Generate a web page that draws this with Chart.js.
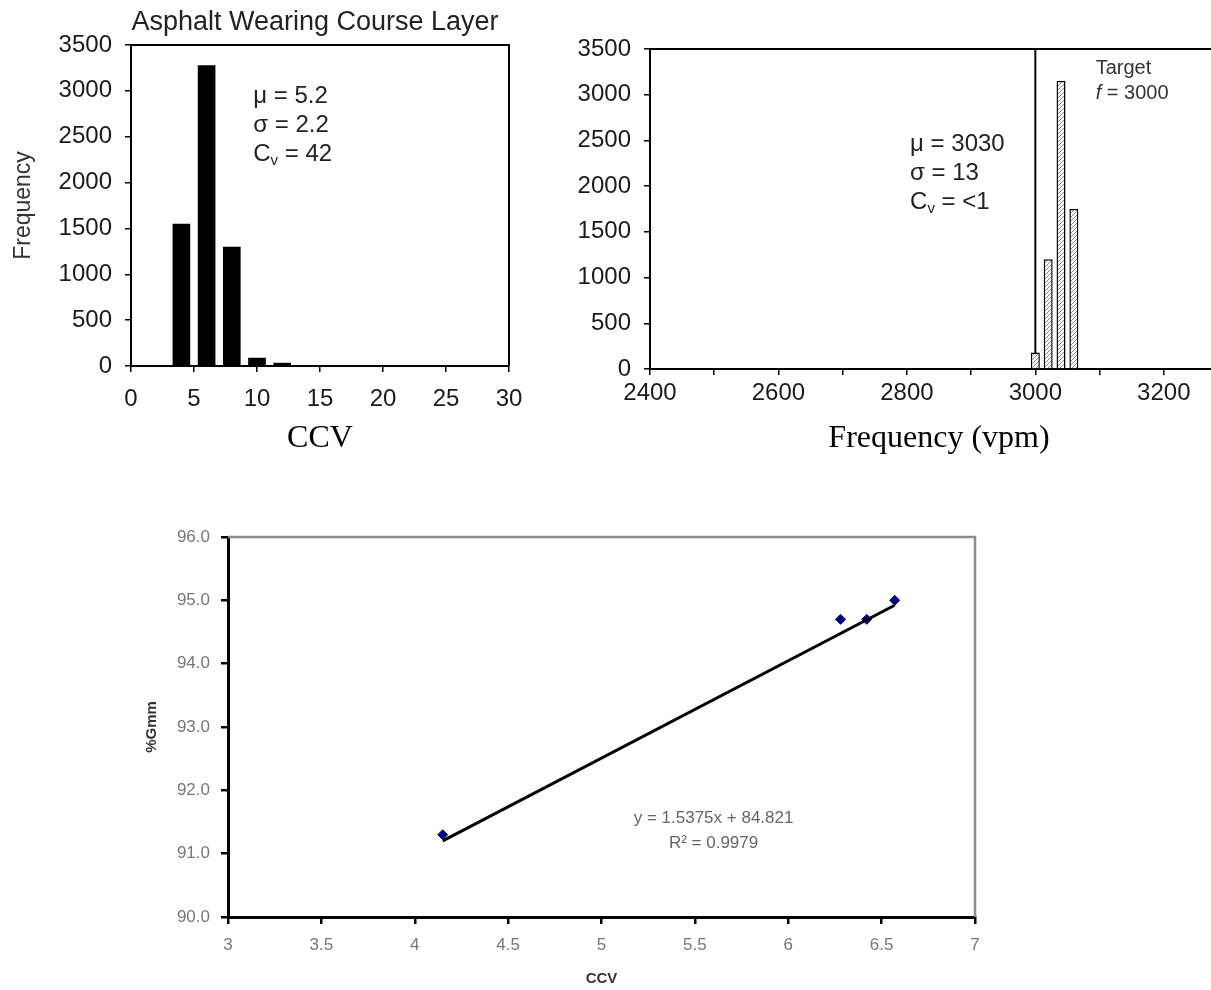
<!DOCTYPE html>
<html>
<head>
<meta charset="utf-8">
<title>CCV charts</title>
<script src="https://cdn.jsdelivr.net/npm/chart.js@4.4.0/dist/chart.umd.min.js"></script>
<style>
  html, body { margin: 0; padding: 0; background: #fff; }
  body { width: 1211px; height: 990px; position: relative; overflow: hidden; }
  .box { position: absolute; }
</style>
</head>
<body>
<div class="box" style="left:0;top:0"><canvas id="ccvHistChart" width="560" height="470"></canvas></div>
<div class="box" style="left:560px;top:0"><canvas id="freqHistChart" width="700" height="470"></canvas></div>
<div class="box" style="left:0;top:480px"><canvas id="ccvGmmChart" width="1211" height="510"></canvas></div>
<script>
// Histogram CCV (lapisan aus aspal)
const ccvBins = [4, 6, 8, 10, 12];
const ccvCounts = [1550, 3280, 1300, 90, 35];
const ccvTicks = [0, 5, 10, 15, 20, 25, 30];
const ccvStats = ["μ = 5.2", "σ = 2.2", "C_v = 42"];

// Histogram frekuensi getar (vpm)
const freqBins = [3000, 3020, 3040, 3060];
const freqCounts = [180, 1200, 3150, 1750];
const freqTarget = 3000;
const freqTickLabels = ["2400", "2600", "2800", "3000", "3200"];
const freqStats = ["μ = 3030", "σ = 13", "C_v = <1"];

const countTicks = [0, 500, 1000, 1500, 2000, 2500, 3000, 3500];

// Hubungan CCV dengan %Gmm
const ccvValues = [4.15, 6.28, 6.42, 6.57];
const gmmValues = [91.3, 94.7, 94.7, 95.0];
const trendSlope = 1.5375;
const trendIntercept = 84.821;
const trendR2 = 0.9979;
const ccvAxisTicks = [3, 3.5, 4, 4.5, 5, 5.5, 6, 6.5, 7];
const gmmAxisTicks = [90, 91, 92, 93, 94, 95, 96];

const SANS = "'Liberation Sans', Arial, sans-serif";
const SERIF = "'Liberation Serif', 'Times New Roman', serif";

// Bingkai atas & kanan area plot
const frameBox = {
  id: "frameBox",
  afterDraw(chart, args, opts) {
    const { ctx, chartArea: a } = chart;
    ctx.save();
    ctx.strokeStyle = opts.color;
    ctx.lineWidth = opts.width;
    ctx.beginPath();
    ctx.moveTo(a.left, a.top);
    ctx.lineTo(a.right, a.top);
    ctx.lineTo(a.right, a.bottom);
    ctx.stroke();
    ctx.restore();
  },
};

// Tulis teks statistik, "_v" jadi subskrip
function drawStat(ctx, x, y, text, size) {
  const font = `${size}px ${SANS}`;
  const parts = text.split("_");
  ctx.font = font;
  ctx.fillText(parts[0], x, y);
  if (parts.length < 2) return;
  let w = ctx.measureText(parts[0]).width;
  ctx.font = `${Math.round(size * 0.62)}px ${SANS}`;
  ctx.fillText(parts[1][0], x + w, y + size * 0.3);
  w += ctx.measureText(parts[1][0]).width;
  ctx.font = font;
  ctx.fillText(parts[1].slice(1), x + w, y);
}

function statsPlugin(id, stats, dataX, dataY, size) {
  return {
    id,
    afterDraw(chart) {
      const { ctx, scales } = chart;
      const x = scales.x.getPixelForValue(dataX);
      const y = scales.y.getPixelForValue(dataY);
      ctx.save();
      ctx.fillStyle = "#222";
      ctx.textBaseline = "middle";
      ctx.textAlign = "left";
      stats.forEach((s, i) => drawStat(ctx, x, y + i * 29, s, size));
      ctx.restore();
    },
  };
}

function hatchPattern() {
  const c = document.createElement("canvas");
  c.width = 4;
  c.height = 4;
  const g = c.getContext("2d");
  g.fillStyle = "#fff";
  g.fillRect(0, 0, 4, 4);
  g.strokeStyle = "#8a8a8a";
  g.lineWidth = 1;
  g.beginPath();
  g.moveTo(0, 4); g.lineTo(4, 0);
  g.moveTo(-2, 2); g.lineTo(2, -2);
  g.moveTo(2, 6); g.lineTo(6, 2);
  g.stroke();
  return g.createPattern(c, "repeat");
}

function countAxis(width) {
  return {
    type: "linear",
    min: countTicks[0],
    max: countTicks[countTicks.length - 1],
    ticks: {
      stepSize: 500,
      color: "#1a1a1a",
      font: { family: SANS, size: 24 },
      padding: 13,
      callback: (v) => (countTicks.includes(v) ? String(v) : ""),
    },
    grid: { drawOnChartArea: false, tickLength: 6, color: "#000", lineWidth: 1.5 },
    border: { color: "#000", width: 2 },
    afterFit: (s) => { s.width = width; },
  };
}

window.onload = () => {
  initCcvHist();
  initFreqHist();
  initCcvGmm();
};

function initCcvHist() {
  const ctx = document.getElementById("ccvHistChart").getContext("2d");
  const titlePlugin = {
    id: "ccvTitle",
    afterDraw(chart) {
      const { ctx, chartArea: a } = chart;
      ctx.save();
      ctx.fillStyle = "#222";
      ctx.font = `27px ${SANS}`;
      ctx.textAlign = "center";
      ctx.textBaseline = "middle";
      ctx.fillText("Asphalt Wearing Course Layer", (a.left + a.right) / 2 - 5, 23);
      ctx.restore();
    },
  };
  new Chart(ctx, {
    type: "bar",
    data: {
      datasets: [
        {
          data: ccvBins.map((b, i) => ({ x: b, y: ccvCounts[i] })),
          backgroundColor: "#000",
          borderWidth: 0,
          barPercentage: 0.7,
          categoryPercentage: 1,
        },
      ],
    },
    options: {
      responsive: false,
      animation: false,
      devicePixelRatio: 1,
      layout: { padding: { top: 45, right: 51, left: 0, bottom: 0 } },
      plugins: {
        legend: { display: false },
        tooltip: { enabled: false },
        frameBox: { color: "#000", width: 2 },
      },
      scales: {
        x: {
          type: "linear",
          min: ccvTicks[0],
          max: ccvTicks[ccvTicks.length - 1],
          offset: false,
          ticks: {
            stepSize: 5,
            autoSkip: false,
            maxRotation: 0,
            color: "#1a1a1a",
            font: { family: SANS, size: 24 },
            padding: 13,
            callback: (v) => String(v),
          },
          grid: { drawOnChartArea: false, offset: false, tickLength: 6, color: "#000", lineWidth: 1.5 },
          border: { color: "#000", width: 2 },
          title: { display: true, text: "CCV", color: "#000", font: { family: SERIF, size: 32 }, padding: { top: 0, bottom: 12 } },
          afterFit: (s) => { s.height = 104; },
        },
        y: {
          ...countAxis(131),
          title: { display: true, text: "Frequency", color: "#333", font: { family: SANS, size: 23 }, padding: { top: 10, bottom: 0 } },
        },
      },
    },
    plugins: [frameBox, titlePlugin, statsPlugin("ccvStats", ccvStats, 9.7, 2944, 24)],
  });
}

function initFreqHist() {
  const ctx = document.getElementById("freqHistChart").getContext("2d");
  const targetPlugin = {
    id: "targetNote",
    afterDraw(chart) {
      const { ctx, scales } = chart;
      const x = scales.x.getPixelForValue(3094);
      const y = scales.y.getPixelForValue(3282);
      ctx.save();
      ctx.fillStyle = "#333";
      ctx.textBaseline = "middle";
      ctx.font = `20px ${SANS}`;
      ctx.fillText("Target", x, y);
      ctx.font = `italic 20px ${SANS}`;
      ctx.fillText("f", x, y + 25);
      const w = ctx.measureText("f").width;
      ctx.font = `20px ${SANS}`;
      ctx.fillText(" = " + freqTarget, x + w, y + 25);
      ctx.restore();
    },
  };
  new Chart(ctx, {
    type: "bar",
    data: {
      datasets: [
        {
          type: "line",
          data: [
            { x: freqTarget, y: countTicks[0] },
            { x: freqTarget, y: countTicks[countTicks.length - 1] },
          ],
          borderColor: "#000",
          borderWidth: 2,
          pointRadius: 0,
          order: 2,
        },
        {
          data: freqBins.map((b, i) => ({ x: b, y: freqCounts[i] })),
          backgroundColor: hatchPattern(),
          borderColor: "#000",
          borderWidth: 1.5,
          barPercentage: 0.7,
          categoryPercentage: 1,
          order: 1,
        },
      ],
    },
    options: {
      responsive: false,
      animation: false,
      devicePixelRatio: 1,
      layout: { padding: { top: 49, right: 32, left: 0, bottom: 0 } },
      plugins: {
        legend: { display: false },
        tooltip: { enabled: false },
        frameBox: { color: "#000", width: 2 },
      },
      scales: {
        x: {
          type: "linear",
          min: 2400,
          max: 3300,
          offset: false,
          ticks: {
            stepSize: 100,
            autoSkip: false,
            maxRotation: 0,
            color: "#1a1a1a",
            font: { family: SANS, size: 24 },
            padding: 4,
            callback: (v) => (freqTickLabels.includes(String(v)) ? String(v) : ""),
          },
          grid: { drawOnChartArea: false, offset: false, tickLength: 6, color: "#000", lineWidth: 1.5 },
          border: { color: "#000", width: 2 },
          title: { display: true, text: "Frequency (vpm)", color: "#000", font: { family: SERIF, size: 32 }, padding: { top: 0, bottom: 12 } },
          afterFit: (s) => { s.height = 101; },
        },
        y: countAxis(90),
      },
    },
    plugins: [frameBox, targetPlugin, statsPlugin("freqStats", freqStats, 2805, 2460, 24)],
  });
}

function initCcvGmm() {
  const ctx = document.getElementById("ccvGmmChart").getContext("2d");
  const xMin = Math.min(...ccvValues);
  const xMax = Math.max(...ccvValues);
  const eqPlugin = {
    id: "trendNote",
    afterDraw(chart) {
      const { ctx, scales } = chart;
      const x = scales.x.getPixelForValue(5.6);
      ctx.save();
      ctx.fillStyle = "#666";
      ctx.font = `17px ${SANS}`;
      ctx.textAlign = "center";
      ctx.textBaseline = "middle";
      ctx.fillText(`y = ${trendSlope}x + ${trendIntercept}`, x, scales.y.getPixelForValue(91.56));
      ctx.fillText(`R² = ${trendR2}`, x, scales.y.getPixelForValue(91.17));
      ctx.restore();
    },
  };
  const tickFont = { family: SANS, size: 17 };
  new Chart(ctx, {
    type: "scatter",
    data: {
      datasets: [
        {
          type: "line",
          data: [
            { x: xMin, y: trendSlope * xMin + trendIntercept },
            { x: xMax, y: trendSlope * xMax + trendIntercept },
          ],
          borderColor: "#000",
          borderWidth: 3,
          pointRadius: 0,
          order: 1,
        },
        {
          data: ccvValues.map((v, i) => ({ x: v, y: gmmValues[i] })),
          backgroundColor: "#000080",
          borderColor: "#000080",
          pointStyle: "rectRot",
          pointRadius: 5,
          order: 2,
        },
      ],
    },
    options: {
      responsive: false,
      animation: false,
      devicePixelRatio: 1,
      layout: { padding: { top: 57, right: 236, left: 0, bottom: 0 } },
      plugins: {
        legend: { display: false },
        tooltip: { enabled: false },
        frameBox: { color: "#8c8c8c", width: 2.5 },
      },
      scales: {
        x: {
          type: "linear",
          min: ccvAxisTicks[0],
          max: ccvAxisTicks[ccvAxisTicks.length - 1],
          ticks: {
            stepSize: 0.5,
            autoSkip: false,
            maxRotation: 0,
            color: "#777",
            font: tickFont,
            padding: 11,
            callback: (v) => String(v),
          },
          grid: { drawOnChartArea: false, tickLength: 7, color: "#000", lineWidth: 2.5 },
          border: { color: "#000", width: 3 },
          title: { display: true, text: "CCV", color: "#333", font: { family: SANS, size: 15, weight: "bold" }, padding: { top: 0, bottom: 2 } },
          afterFit: (s) => { s.height = 73; },
        },
        y: {
          type: "linear",
          min: gmmAxisTicks[0],
          max: gmmAxisTicks[gmmAxisTicks.length - 1],
          ticks: { stepSize: 1, color: "#777", font: tickFont, padding: 11, callback: (v) => v.toFixed(1) },
          grid: { drawOnChartArea: false, tickLength: 7, color: "#000", lineWidth: 2.5 },
          border: { color: "#000", width: 3 },
          title: { display: true, text: "%Gmm", color: "#333", font: { family: SANS, size: 15, weight: "bold" }, padding: { top: 143, bottom: 0 } },
          afterFit: (s) => { s.width = 228; },
        },
      },
    },
    plugins: [frameBox, eqPlugin],
  });
}
</script>
</body>
</html>
